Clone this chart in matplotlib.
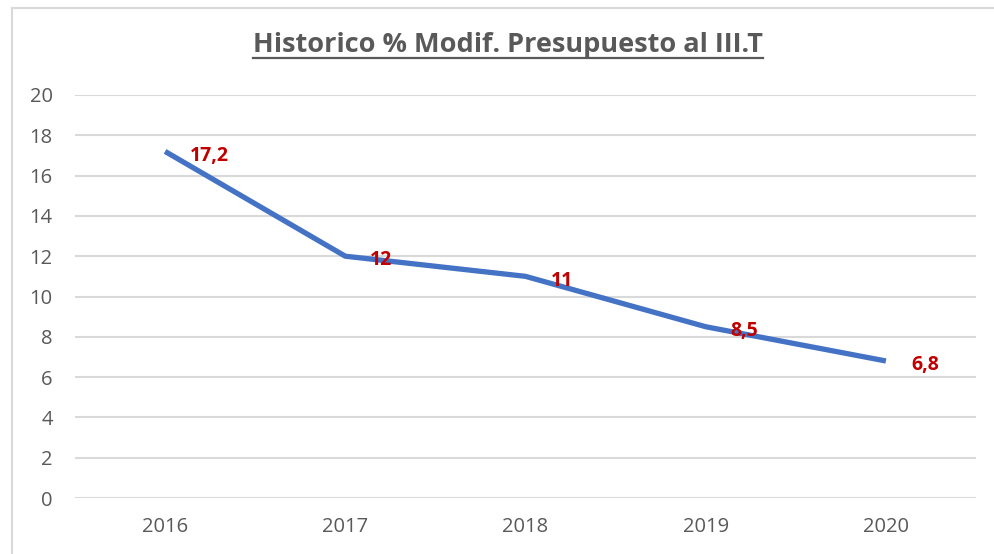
import matplotlib.pyplot as plt
from matplotlib.lines import Line2D

# data
years = ["2016", "2017", "2018", "2019", "2020"]
values = [17.2, 12, 11, 8.5, 6.8]
labels = ["17,2", "12", "11", "8,5", "6,8"]

plt.rcParams['font.family'] = ['Open Sans', 'DejaVu Sans']

fig = plt.figure(figsize=(9.94, 5.54), dpi=100)
ax = fig.add_axes([75 / 994, 1 - 498 / 554, 901 / 994, 403 / 554])

x = list(range(len(years)))
ax.plot(x, values, color="#4472C4", linewidth=3.8, solid_capstyle="butt", zorder=3)

for xi, v, lab in zip(x, values, labels):
    ax.annotate(lab, (xi, v), xytext=(18, -3), textcoords="offset points",
                ha="left", va="center", color="#C00000", fontsize=14,
                fontweight="bold", zorder=4)

ax.set_xlim(-0.5, len(years) - 0.5)
ax.set_ylim(0, 20)
ax.set_yticks(range(0, 21, 2))
ax.set_xticks(x)
ax.set_xticklabels(years)
ax.grid(axis="y", color="#D9D9D9", linewidth=1.5)
ax.set_axisbelow(True)
for s in ax.spines.values():
    s.set_visible(False)
ax.tick_params(axis="both", length=0, colors="#595959", labelsize=14.5)
ax.tick_params(axis="y", pad=16)
ax.tick_params(axis="x", pad=14)

# title with underline
title = fig.text(508 / 994, 1 - 45 / 554, "Historico % Modif. Presupuesto al III.T",
                 ha="center", va="center", fontsize=19.5, fontweight="bold",
                 color="#595959")
fig.canvas.draw()
bb = title.get_window_extent(fig.canvas.get_renderer())
uy = 1 - 58 / 554
fig.add_artist(Line2D([bb.x0 / 994, bb.x1 / 994], [uy, uy], color="#595959",
                      linewidth=1.6, transform=fig.transFigure))

# chart frame (cut off at right and bottom)
fig.add_artist(Line2D([12 / 994, 12 / 994], [0, 1 - 8 / 554], color="#D9D9D9",
                      linewidth=1.5, transform=fig.transFigure))
fig.add_artist(Line2D([12 / 994, 1], [1 - 8 / 554, 1 - 8 / 554], color="#D9D9D9",
                      linewidth=1.5, transform=fig.transFigure))

fig.savefig("out.png", dpi=100)
